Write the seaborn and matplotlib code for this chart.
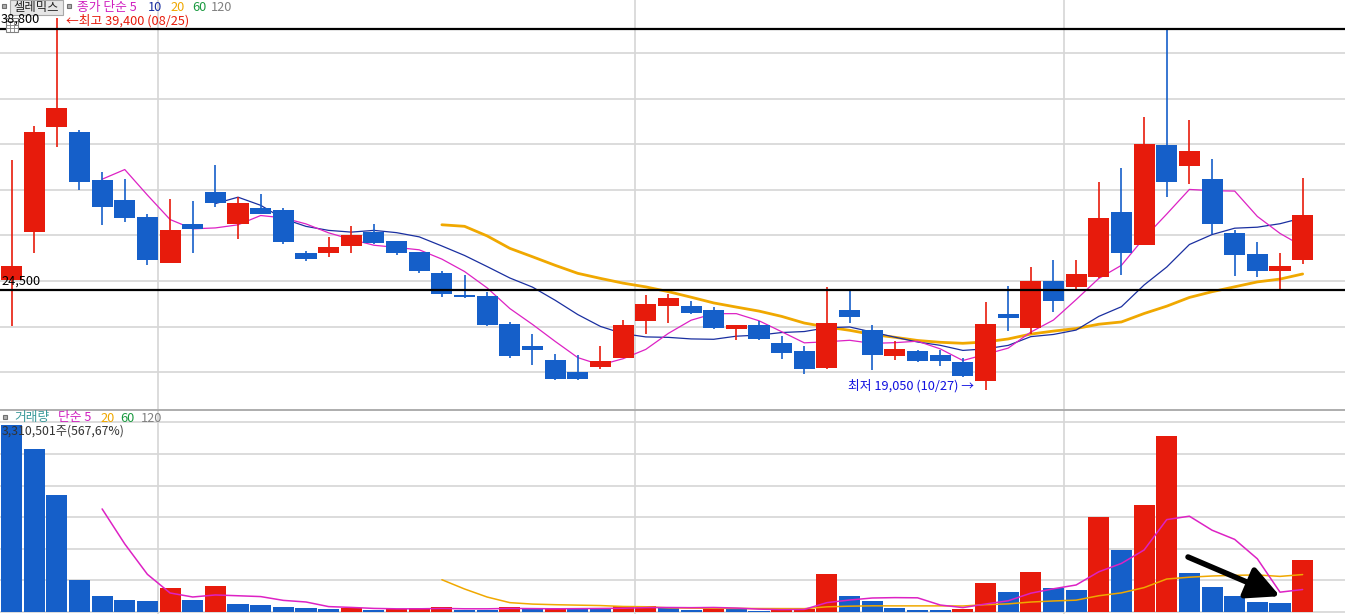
import numpy as np
import pandas as pd
import matplotlib
matplotlib.use("Agg")
import matplotlib.pyplot as plt
from matplotlib.patches import Rectangle
import seaborn as sns

# daily candles (won)
opens = [25050, 27700, 33450, 33150, 30550, 29450, 28500, 26000, 28100, 29900,
         28100, 29000, 28900, 26550, 26550, 26900, 27700, 27200, 26600, 25450,
         24250, 24200, 22650, 21450, 20650, 20000, 20300, 20800, 22800, 23650,
         23650, 23400, 22350, 22600, 21600, 21150, 20250, 23400, 22300, 20900,
         21150, 20950, 20550, 19500, 23200, 22450, 25000, 24650, 25200, 28800,
         27000, 32450, 31300, 30600, 27650, 26500, 25550, 26150]
highs = [31650, 33500, 39400, 33300, 31000, 30600, 28700, 29500, 29400, 31350,
         29600, 29750, 29000, 26650, 27400, 28000, 28100, 27200, 26600, 25550,
         25350, 24400, 22750, 22100, 21000, 20950, 21450, 22850, 24250, 24300,
         23900, 23550, 22600, 22800, 22000, 21450, 24650, 24450, 22600, 21700,
         21200, 21200, 20800, 23850, 24750, 25750, 26150, 26150, 30450, 31200,
         34000, 38750, 33850, 31700, 27800, 27150, 26550, 30650]
lows = [22550, 26550, 32350, 30000, 28050, 28250, 25850, 26000, 26550, 29050,
        27300, 28650, 27050, 26100, 26300, 26550, 27050, 26450, 25450, 24100,
        24050, 22550, 20800, 20400, 19550, 19550, 20200, 20800, 22100, 22700,
        23200, 22350, 21750, 21750, 20750, 19900, 20200, 22700, 20100, 20650,
        20550, 20350, 19750, 19050, 22250, 22100, 23300, 24550, 25150, 25350,
        26950, 29600, 30300, 27600, 25250, 25200, 24550, 25950]
closes = [25800, 33150, 34500, 30400, 29050, 28450, 26150, 27800, 27850, 29300,
          29300, 28700, 27150, 26200, 26850, 27500, 27100, 26550, 25550, 24300,
          24100, 22600, 20900, 21200, 19650, 19650, 20600, 22600, 23750, 24050,
          23250, 22400, 22600, 21800, 21050, 20200, 22700, 23000, 20950, 21250,
          20600, 20600, 19800, 22650, 22950, 25000, 23900, 25400, 28450, 26550,
          32500, 30450, 32150, 28100, 26450, 25550, 25800, 28600]
volumes = [11840000, 10320000, 7410000, 2030000, 1010000, 760000, 700000, 1520000, 760000, 1650000,
           510000, 440000, 320000, 250000, 190000, 250000, 130000, 190000, 250000, 320000,
           130000, 120000, 320000, 190000, 250000, 190000, 180000, 380000, 400000, 280000,
           130000, 250000, 190000, 60000, 130000, 190000, 2400000, 1010000, 700000, 250000,
           130000, 120000, 190000, 1840000, 1270000, 2530000, 1520000, 1390000, 6010000, 3920000,
           6770000, 11140000, 2470000, 1580000, 1010000, 630000, 583175, 3310501]

price_grid = [20000, 22500, 25000, 27500, 30000, 32500, 35000, 37500]
vol_grid = [0, 2000000, 4000000, 6000000, 8000000, 10000000, 12000000]
month_lines = [6.47, 27.53, 46.47]
user_lines = [38800, 24500]

RED = "#e71b0c"
BLUE = "#155fc9"
PINK = "#dd22c4"
NAVY = "#1a2fa0"
GOLD = "#f0a800"
GRID = "#d6d6d6"

W, H = 1345, 614

df = pd.DataFrame({"i": np.arange(len(closes)), "open": opens, "high": highs,
                   "low": lows, "close": closes, "volume": volumes})
df["ma5"] = df["close"].rolling(5).mean()
df["ma10"] = df["close"].rolling(10).mean()
df["ma20"] = df["close"].rolling(20).mean()
df["vma5"] = df["volume"].rolling(5).mean()
df["vma20"] = df["volume"].rolling(20).mean()
df["vcol"] = np.where(df["volume"].diff() > 0, "up", "down")

sns.set_theme(style="white")
plt.rcParams["font.family"] = ["Noto Sans CJK KR", "DejaVu Sans"]

fig = plt.figure(figsize=(W / 100, H / 100), dpi=100)
ax_p = fig.add_axes([0, 205 / H, 1, 409 / H])
ax_v = fig.add_axes([0, 0, 1, 204 / H])

xlim = (-0.508, 58.87)

# ---- price panel
for ax in (ax_p, ax_v):
    ax.set_facecolor("white")
    for s in ax.spines.values():
        s.set_visible(False)
    ax.set_xticks([])
    ax.set_yticks([])
    for m in month_lines:
        ax.axvline(m, color=GRID, lw=1.2, zorder=0)

for g in price_grid:
    ax_p.axhline(g, color=GRID, lw=1.2, zorder=0)

sns.lineplot(data=df, x="i", y="ma20", ax=ax_p, color=GOLD, lw=2.0, zorder=2)
sns.lineplot(data=df, x="i", y="ma10", ax=ax_p, color=NAVY, lw=0.9, zorder=2)
sns.lineplot(data=df, x="i", y="ma5", ax=ax_p, color=PINK, lw=0.9, zorder=2)

up = df["close"] >= df["open"]
ccol = np.where(up, RED, BLUE)
ax_p.vlines(df["i"], df["low"], df["high"], colors=ccol, lw=1.2, zorder=3)
body = np.maximum((df["close"] - df["open"]).abs(), 80)
ax_p.bar(df["i"], body, bottom=np.minimum(df["open"], df["close"]),
         width=0.93, color=ccol, lw=0, zorder=4)

for v in user_lines:
    ax_p.axhline(v, color="black", lw=1.6, zorder=5)

ax_p.set_xlim(*xlim)
ax_p.set_ylim(25000 - 128 * 54.82, 25000 + 281 * 54.82)
ax_p.set_xlabel("")
ax_p.set_ylabel("")

# ---- volume panel
for g in vol_grid:
    ax_v.axhline(g, color=GRID, lw=1.2, zorder=0)

sns.barplot(data=df, x="i", y="volume", hue="vcol", palette={"up": RED, "down": BLUE},
            native_scale=True, width=0.93, dodge=False, legend=False, saturation=1,
            linewidth=0, ax=ax_v, zorder=2)
sns.lineplot(data=df, x="i", y="vma20", ax=ax_v, color=GOLD, lw=1.1, zorder=3)
sns.lineplot(data=df, x="i", y="vma5", ax=ax_v, color=PINK, lw=1.1, zorder=3)

ax_v.annotate("", xy=(56.0, 1000000), xytext=(51.94, 3480000),
              arrowprops=dict(arrowstyle="-|>,head_width=0.5,head_length=1.0",
                              color="black", lw=4, mutation_scale=20,
                              shrinkA=0, shrinkB=0), zorder=6)

ax_v.set_xlim(*xlim)
ax_v.set_ylim(-126000, 12780000)
ax_v.set_xlabel("")
ax_v.set_ylabel("")
ax_v.set_xticks([])
ax_v.set_yticks([])
ax_v.spines["top"].set_visible(True)
ax_v.spines["top"].set_color("#a0a0a0")
ax_v.spines["top"].set_linewidth(1.2)


# ---- labels, placed in pixel coordinates from the top-left
def ptext(x, y, s, color, size=9.2, **kw):
    fig.text(x / W, 1 - y / H, s, color=color, fontsize=size, va="center", ha="left", **kw)


def pbox(x, y, w, h, fc, ec):
    fig.add_artist(Rectangle((x / W, 1 - (y + h) / H), w / W, h / H, transform=fig.transFigure,
                             facecolor=fc, edgecolor=ec, lw=0.8, zorder=10))


pbox(2, 4, 4, 4, "#b0b0b0", "#707070")
pbox(10, 0.5, 53, 14, "#e6e6e6", "#a8a8a8")
ptext(13.5, 7.5, "셀레믹스", "#222222", size=8.9, zorder=11)
pbox(67, 4, 4, 4, "#b0b0b0", "#707070")
ptext(77, 7.5, "종가 단순 5", "#d020c0", zorder=11)
ptext(148, 7.5, "10", "#1a2fa0", zorder=11)
ptext(170, 7.5, "20", GOLD, zorder=11)
ptext(192, 7.5, "60", "#1a9a40", zorder=11)
ptext(211, 7.5, "120", "#808080", zorder=11)

ptext(1, 19, "38,800", "black", zorder=11)
pbox(6, 18, 12, 14, "white", "#808080")
for k in (1, 2):
    fig.add_artist(plt.Line2D([(6 + k * 4) / W] * 2, [1 - 21 / H, 1 - 32 / H],
                              color="#808080", lw=0.6, transform=fig.transFigure, zorder=11))
for k in (0, 1, 2):
    fig.add_artist(plt.Line2D([6 / W, 18 / W], [1 - (21 + k * 3.6) / H] * 2,
                              color="#808080", lw=0.6, transform=fig.transFigure, zorder=11))
ptext(66, 21, "←최고 39,400 (08/25)", RED, zorder=11)

ptext(1, 281, "24,500", "black", zorder=11)
ptext(848, 386, "최저 19,050 (10/27) →", "#1010e0", zorder=11)

pbox(3, 415, 4, 4, "#b0b0b0", "#707070")
ptext(14, 418, "거래량", "#3a9a9a", zorder=11)
ptext(58, 418, "단순 5", "#d020c0", zorder=11)
ptext(100, 418, "20", GOLD, zorder=11)
ptext(120, 418, "60", "#1a9a40", zorder=11)
ptext(141, 418, "120", "#808080", zorder=11)
ptext(2, 431, "3,310,501주(567,67%)", "#333333", size=8.8, zorder=11)

fig.savefig("out.png", dpi=100)
